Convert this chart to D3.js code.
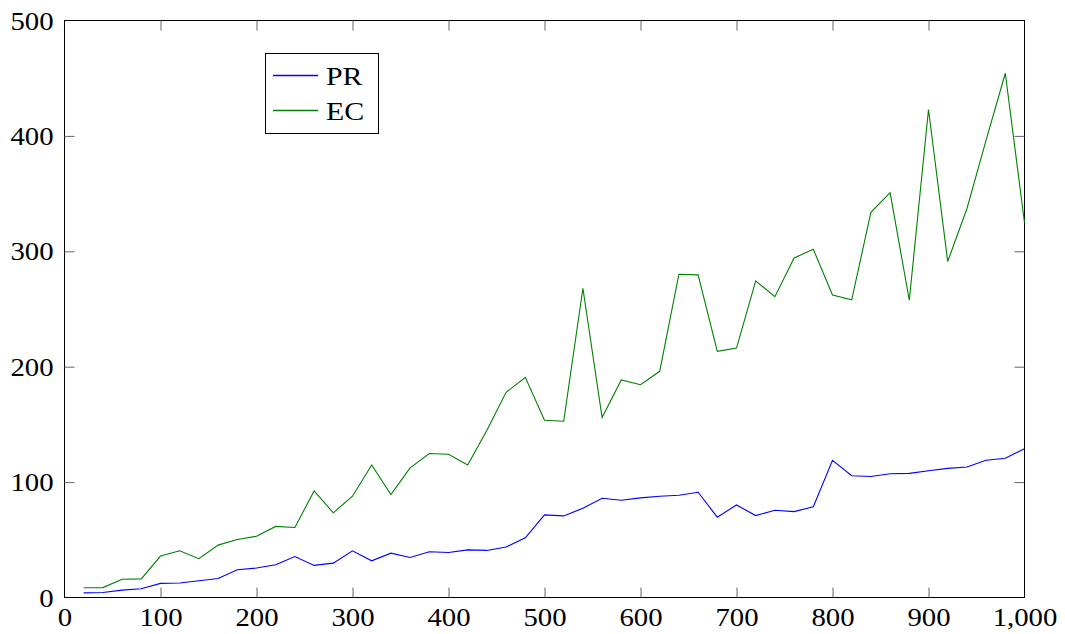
<!DOCTYPE html>
<html>
<head>
<meta charset="utf-8">
<script src="https://cdn.jsdelivr.net/npm/d3@7"></script>
<style>
  html, body { margin: 0; padding: 0; background: #fff; }
</style>
</head>
<body>
<svg id="chart" width="1065" height="634"></svg>
<script>
const xValues = [20,40,60,80,100,120,140,160,180,200,220,240,260,280,300,320,340,360,380,400,
  420,440,460,480,500,520,540,560,580,600,620,640,660,680,700,720,740,760,780,800,
  820,840,860,880,900,920,940,960,980,1000];
const prValues = [4,4.3,6.4,7.6,12.2,12.5,14.5,16.5,24,25.5,28.3,35.5,27.8,29.8,40.5,31.8,38.4,34.7,39.6,39,
  41.3,40.8,43.7,51.7,71.6,70.7,77.4,86,84.3,86.3,87.8,88.6,91.2,69.6,80.2,71,75.6,74.4,78.7,118.9,
  105.5,104.9,107.3,107.6,109.8,111.9,113.1,118.9,120.7,129];
const ecValues = [8.5,8.6,15.8,16.1,35.9,40.5,33.6,45.4,50.3,53,61.6,60.7,92.4,73.4,87.8,114.9,89.3,112.3,124.8,124.2,
  114.9,144.9,177.8,190.8,153.6,152.7,268,155.9,188.5,184.4,196,280.1,279.6,213.3,216.1,274.4,260.7,294.2,301.8,262.2,
  257.9,333.8,350.9,257.6,422.9,291.2,336.9,396.3,454.3,324.7];
const seriesNames = ["PR", "EC"];
const seriesColors = ["#0000ff", "#008000"];
const xTicks = [0,100,200,300,400,500,600,700,800,900,1000];
const yTicks = [0,100,200,300,400,500];

const FONT = "'Liberation Serif', 'Times New Roman', serif";

const svg = d3.select("#chart");
const L = 64.5, R = 1024.5, T = 20.5, B = 597.5;
const x = d3.scaleLinear().domain([0, 1000]).range([L, R]);
const y = d3.scaleLinear().domain([0, 500]).range([B, T]);
const FS = 25, SX = 1.15;

svg.append("rect").attr("x", L).attr("y", T).attr("width", R - L).attr("height", B - T)
  .attr("fill", "none").attr("stroke", "#000").attr("stroke-width", 1);

function styleAxis(g) {
  g.attr("font-family", null);
  g.select(".domain").remove();
  g.selectAll(".tick line").attr("stroke", "#666").attr("stroke-width", 1);
  g.selectAll(".tick text").attr("font-size", FS).style("font-family", FONT).attr("fill", "#000");
}

const fmt = d3.format(",");
const gx = svg.append("g").attr("transform", `translate(0,${B})`)
  .call(d3.axisBottom(x).tickValues(xTicks).tickFormat(fmt).tickSizeInner(-10).tickSizeOuter(0).tickPadding(11));
styleAxis(gx);
gx.selectAll(".tick text").attr("transform", `scale(${SX},1)`);
gx.selectAll(".tick").filter(d => d === 0 || d === 1000).select("line").remove();
const gxt = svg.append("g").attr("transform", `translate(0,${T})`)
  .call(d3.axisTop(x).tickValues(xTicks).tickFormat("").tickSizeInner(-10).tickSizeOuter(0));
styleAxis(gxt);
gxt.selectAll(".tick").filter(d => d === 0 || d === 1000).remove();
const gy = svg.append("g").attr("transform", `translate(${L},0)`)
  .call(d3.axisLeft(y).tickValues(yTicks).tickFormat(fmt).tickSizeInner(-10).tickSizeOuter(0).tickPadding(11));
styleAxis(gy);
gy.selectAll(".tick text").attr("transform", `scale(${SX},1)`).attr("x", -11 / SX).attr("dy", "0.34em");
gy.selectAll(".tick").filter(d => d === 0 || d === 500).select("line").remove();
const gyr = svg.append("g").attr("transform", `translate(${R},0)`)
  .call(d3.axisRight(y).tickValues(yTicks).tickFormat("").tickSizeInner(-10).tickSizeOuter(0));
styleAxis(gyr);
gyr.selectAll(".tick").filter(d => d === 0 || d === 500).remove();

const series = [prValues, ecValues];
const line = d3.line().x((d, i) => x(xValues[i])).y(d => y(d));
series.forEach((vals, k) => {
  svg.append("path").datum(vals).attr("d", line)
    .attr("fill", "none").attr("stroke", seriesColors[k]).attr("stroke-width", 1.1);
});

const lg = svg.append("g");
lg.append("rect").attr("x", 265.5).attr("y", 53.5).attr("width", 113).attr("height", 80)
  .attr("fill", "#fff").attr("stroke", "#000").attr("stroke-width", 1);
seriesNames.forEach((name, k) => {
  const cy = 75.5 + k * 35;
  lg.append("line").attr("x1", 273).attr("x2", 318).attr("y1", cy).attr("y2", cy)
    .attr("stroke", seriesColors[k]).attr("stroke-width", 1.3);
  lg.append("text").attr("transform", `translate(326,${cy}) scale(${SX},1)`)
    .attr("dy", "0.35em").attr("font-size", 26).style("font-family", FONT).attr("fill", "#000").text(name);
});
</script>
</body>
</html>
